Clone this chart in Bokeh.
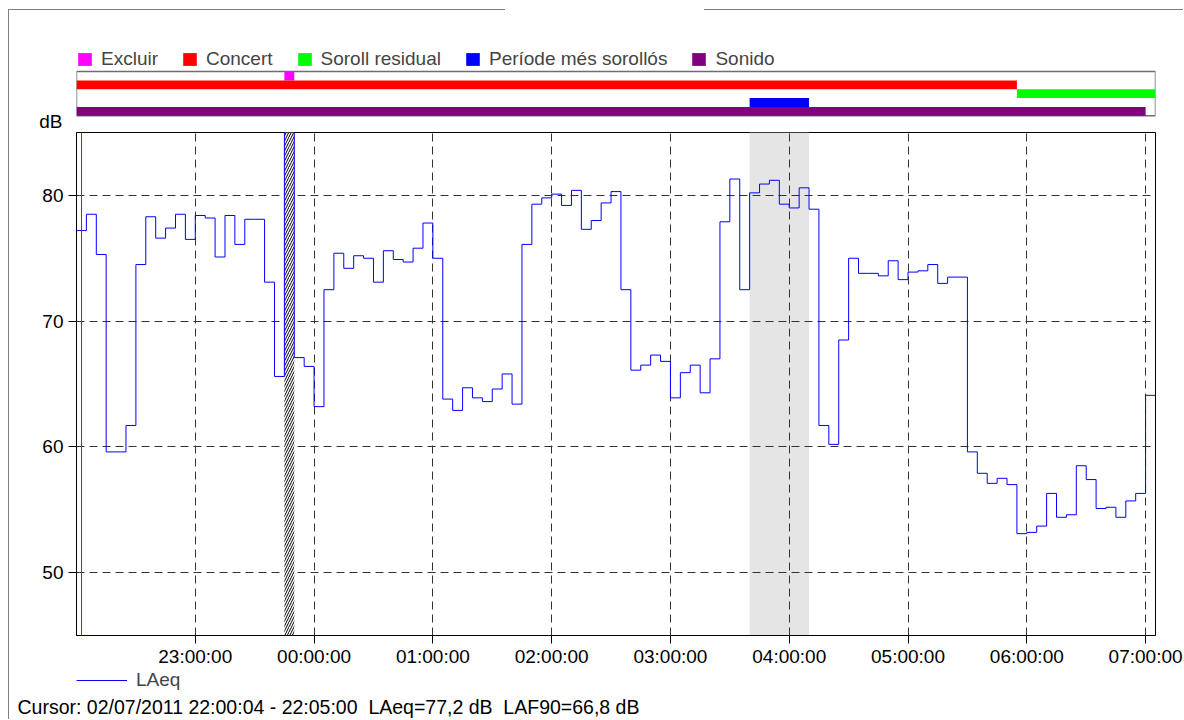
import numpy as np
import pandas as pd
from bokeh.plotting import figure
from bokeh.layouts import column
from bokeh.models import (Range1d, FixedTicker, DatetimeTickFormatter, LinearAxis,
                          Legend, LegendItem, Span, Title)
from bokeh.embed import file_html
from bokeh.resources import INLINE

# ------------------------------------------------------------------ data
measure_date = "2011-07-02"
interval_min = 5
first_interval = "22:00"
laeq = [77.2, 78.5, 75.3, 59.6, 59.6, 61.7, 74.5, 78.3, 76.6, 77.4, 78.5, 76.5,
        78.4, 78.2, 75.1, 78.4, 76.1, 78.1, 78.1, 73.1, 65.6, 92.0, 67.1, 66.4,
        63.2, 72.5, 75.4, 74.2, 75.2, 75.0, 73.1, 75.6, 74.9, 74.7, 75.8, 77.8,
        75.0, 63.8, 62.9, 64.7, 63.9, 63.6, 64.6, 65.8, 63.4, 76.1, 79.3, 79.8,
        80.1, 79.2, 80.4, 77.3, 78.0, 79.4, 80.3, 72.5, 66.1, 66.5, 67.3, 66.8,
        63.9, 65.9, 66.5, 64.3, 67.0, 77.9, 81.3, 72.5, 80.2, 80.9, 81.2, 79.3,
        79.0, 80.6, 78.9, 61.7, 60.2, 68.5, 75.0, 73.8, 73.8, 73.6, 74.8, 73.3,
        73.9, 74.0, 74.5, 73.0, 73.5, 73.5, 59.6, 57.9, 57.1, 57.5, 57.0, 53.1,
        53.2, 53.7, 56.3, 54.4, 54.6, 58.5, 57.4, 55.1, 55.2, 54.4, 55.7, 56.3,
        64.1]

event_names = ["Excluir", "Concert", "Soroll residual", "Període més sorollós", "Sonido"]
event_colors = ["#ff00ff", "#ff0000", "#00ff00", "#0000ff", "#800080"]
event_start = ["23:45", "22:00", "05:55", "03:40", "22:00"]
event_end = ["23:50", "05:55", "07:05", "04:10", "07:00"]

tick_hours = ["23:00", "00:00", "01:00", "02:00", "03:00", "04:00", "05:00", "06:00", "07:00"]
y_ticks = [50, 60, 70, 80]
y_min, y_max = 45, 85

cursor_date = "02/07/2011"
cursor_from = "22:00:04"
cursor_to = "22:05:00"
cursor_laeq = 77.2
cursor_laf90 = 66.8
series_name = "LAeq"
unit = "dB"

# ------------------------------------------------------------------ helpers
def to_ms(hhmm):
    t = pd.Timestamp(f"{measure_date} {hhmm}")
    if t.hour < 12:
        t += pd.Timedelta(days=1)
    return t.value / 1e6

FONT = "Liberation Sans"
FS = "19px"
step_ms = interval_min * 60 * 1000
t0 = to_ms(first_interval)
xs = [t0 + i * step_ms for i in range(len(laeq))]
t_end = xs[-1] + step_ms
step_x = xs + [t_end]
step_y = laeq + [laeq[-1]]

# ------------------------------------------------------------------ geometry
W = 1174
H_STRIP, H_MAIN, H_BOT = 122, 537, 50
BL, BR = 67, 28
ROW_TOP, ROW_PX = 61.2, 8.8
DB_ROW = 5.7

x_range = Range1d(t0, t_end)

# ------------------------------------------------------------------ strip figure
ps = figure(width=W, height=H_STRIP, x_range=x_range,
            y_range=Range1d((H_STRIP - ROW_TOP) / ROW_PX, -ROW_TOP / ROW_PX),
            x_axis_location=None, y_axis_location=None,
            output_backend="svg", toolbar_location=None,
            min_border_left=BL, min_border_right=BR, min_border_top=0, min_border_bottom=0)
ps.outline_line_color = None
ps.grid.visible = False

ps.quad(left=[t0], right=[t_end], top=[-0.02], bottom=[len(event_names)],
        fill_color=None, line_color="#6e6e6e", line_width=1.5)
items = []
for i, (nm, col, s, e) in enumerate(zip(event_names, event_colors, event_start, event_end)):
    r = ps.quad(left=[to_ms(s)], right=[to_ms(e)], top=[i], bottom=[i + 1],
                fill_color=col, line_color=None)
    items.append(LegendItem(label=nm, renderers=[r]))

leg = Legend(items=items, location=(0, H_STRIP - 60), orientation="horizontal",
             glyph_width=17, glyph_height=16, label_standoff=8, spacing=23,
             padding=0, margin=0, border_line_color=None, background_fill_alpha=0,
             label_text_font=FONT, label_text_font_size=FS, label_height=16)
ps.add_layout(leg)

db_axis = LinearAxis(ticker=FixedTicker(ticks=[DB_ROW]), major_label_overrides={DB_ROW: unit},
                     major_tick_out=0, major_tick_in=0, minor_tick_out=0, minor_tick_in=0,
                     axis_line_color=None, major_label_standoff=14,
                     major_label_text_font=FONT, major_label_text_font_size=FS,
                     major_label_text_color="black")
ps.add_layout(db_axis, "left")

# ------------------------------------------------------------------ main figure
p = figure(width=W, height=H_MAIN, x_range=x_range, y_range=Range1d(y_min, y_max),
           x_axis_type="datetime", output_backend="svg", toolbar_location=None,
           min_border_left=BL, min_border_right=BR, min_border_top=0, min_border_bottom=33)
p.outline_line_color = "black"
p.outline_line_width = 1

hour_ticks = [to_ms(h) for h in tick_hours]
p.xaxis.ticker = FixedTicker(ticks=hour_ticks)
fmt = "%H:%M:%S"
p.xaxis.formatter = DatetimeTickFormatter(milliseconds=fmt, seconds=fmt, minsec=fmt, minutes=fmt,
                                          hourmin=fmt, hours=fmt, days=fmt, months=fmt, years=fmt)
p.yaxis.ticker = FixedTicker(ticks=y_ticks)
p.xgrid.ticker = FixedTicker(ticks=hour_ticks)
p.ygrid.ticker = FixedTicker(ticks=y_ticks)

for ax in (p.xaxis, p.yaxis):
    ax.major_tick_out = 8
    ax.major_tick_in = 0
    ax.minor_tick_out = 0
    ax.minor_tick_in = 0
    ax.axis_line_color = "black"
    ax.major_tick_line_color = "black"
    ax.major_label_text_font = FONT
    ax.major_label_text_font_size = FS
    ax.major_label_text_color = "black"
p.xaxis.major_label_standoff = 2
p.yaxis.major_label_standoff = 5

p.grid.grid_line_color = "#333333"
p.grid.grid_line_dash = "8 5"
p.grid.grid_line_width = 1

# loudest period band (under grid)
i_loud = event_names.index("Període més sorollós")
p.quad(left=[to_ms(event_start[i_loud])], right=[to_ms(event_end[i_loud])],
       bottom=[y_min], top=[y_max], fill_color="#e5e5e5", line_color=None, level="image")

# excluded interval (hatched)
i_ex = event_names.index("Excluir")
p.quad(left=[to_ms(event_start[i_ex])], right=[to_ms(event_end[i_ex])],
       bottom=[y_min], top=[y_max], fill_color="white", line_color=None,
       hatch_pattern="/", hatch_color="black", hatch_scale=5, hatch_weight=1)

p.step(x=step_x, y=step_y, mode="after", line_color="#0000ff", line_width=1)

cursor_mid = (to_ms(cursor_from) + to_ms(cursor_to)) / 2
p.add_layout(Span(location=cursor_mid, dimension="height", line_color="#ff0000", line_width=1))

# ------------------------------------------------------------------ bottom strip: legend + cursor
# the key line is the same series; this strip's y range lies below the data, so only
# its legend swatch is visible.
pb = figure(width=W, height=H_BOT, x_range=x_range, y_range=Range1d(0, 1),
            x_axis_location=None, y_axis_location=None,
            output_backend="svg", toolbar_location=None,
            min_border_left=BL, min_border_right=BR, min_border_top=0, min_border_bottom=0)
pb.outline_line_color = None
pb.grid.visible = False
key_line = pb.line(x=step_x, y=step_y, line_color="#0000ff", line_width=1)
leg2 = Legend(items=[LegendItem(label=series_name, renderers=[key_line])], location=(0, 0),
              glyph_width=51, glyph_height=16, label_standoff=9, padding=0, margin=0,
              border_line_color=None, background_fill_alpha=0,
              label_text_font=FONT, label_text_font_size=FS, label_height=16)
pb.add_layout(leg2)


def dec(v):
    return f"{v:.1f}".replace(".", ",")


GAP = " \u00a0"
cursor_text = (f"Cursor: {cursor_date} {cursor_from} - {cursor_to}{GAP}"
               f"{series_name}={dec(cursor_laeq)} {unit}{GAP}LAF90={dec(cursor_laf90)} {unit}")
pb.add_layout(Title(text=cursor_text, align="left", offset=-59, standoff=4,
                    text_font=FONT, text_font_size="19.5px", text_font_style="normal",
                    text_color="black"), "below")

layout = column(ps, p, pb, spacing=0,
                styles={"margin-left": "8px", "margin-top": "9px",
                        "border-left": "1px solid #808080", "border-top": "1px solid #808080",
                        "border-image": "linear-gradient(to right, #808080 0px 497px, "
                                        "transparent 497px 695px, #808080 695px) 1"})

open("out.html", "w").write(file_html(layout, INLINE))
